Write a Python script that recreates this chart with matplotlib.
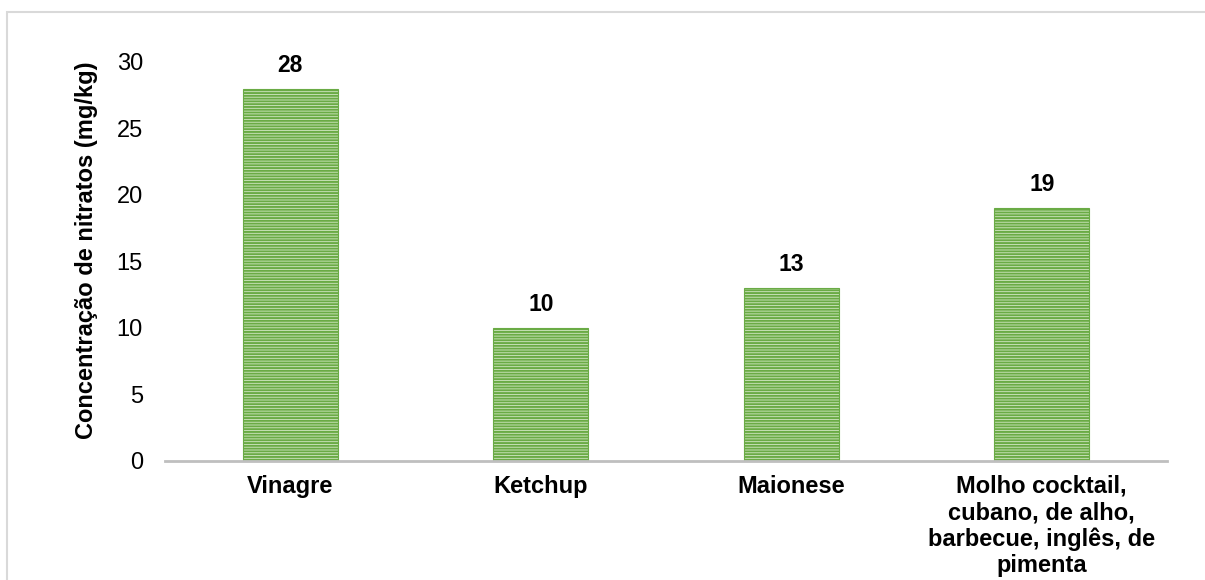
import matplotlib
matplotlib.use("Agg")
import matplotlib.pyplot as plt
from matplotlib.patches import Rectangle

plt.rcParams['font.family'] = ['Liberation Sans', 'DejaVu Sans']
plt.rcParams['hatch.linewidth'] = 1.4

# nitrate concentration by sauce type
categories = ['Vinagre', 'Ketchup', 'Maionese',
              'Molho cocktail,\ncubano, de alho,\nbarbecue, inglês, de\npimenta']
values = [28, 10, 13, 19]
yticks = [0, 5, 10, 15, 20, 25, 30]
ylabel = 'Concentração de nitratos (mg/kg)'

fig = plt.figure(figsize=(12.05, 5.8), dpi=100)
ax = fig.add_axes([0.137, 0.2052, 0.8315, 0.688])

x = range(len(categories))
bars = ax.bar(x, values, width=0.38, color='#d3e8c5', edgecolor='#6aab45',
              hatch='------', linewidth=0.8)

for xi, v in zip(x, values):
    ax.text(xi, v + 0.9, str(v), ha='center', va='bottom',
            fontsize=16.5, fontweight='bold')

ax.set_xlim(-0.5, len(categories) - 0.5)
ax.set_ylim(0, 30)
ax.set_yticks(yticks)
ax.set_xticks(list(x))
ax.set_xticklabels(categories, fontsize=17, fontweight='bold', linespacing=1.18)
ax.tick_params(axis='y', length=0, labelsize=17, pad=16)
ax.tick_params(axis='x', length=0, pad=10)
ax.set_ylabel(ylabel, fontsize=17, fontweight='bold')
ax.yaxis.set_label_coords(-0.067, 0.529)

for s in ['top', 'right', 'left']:
    ax.spines[s].set_visible(False)
ax.spines['bottom'].set_color('#bfbfbf')
ax.spines['bottom'].set_linewidth(2)

# outer chart frame
fig.patches.append(Rectangle((7 / 1205, -0.1), 1.2, 1.1 - 12 / 580,
                             transform=fig.transFigure, fill=False,
                             edgecolor='#d9d9d9', linewidth=1.5))

fig.savefig('out.png', dpi=100)
